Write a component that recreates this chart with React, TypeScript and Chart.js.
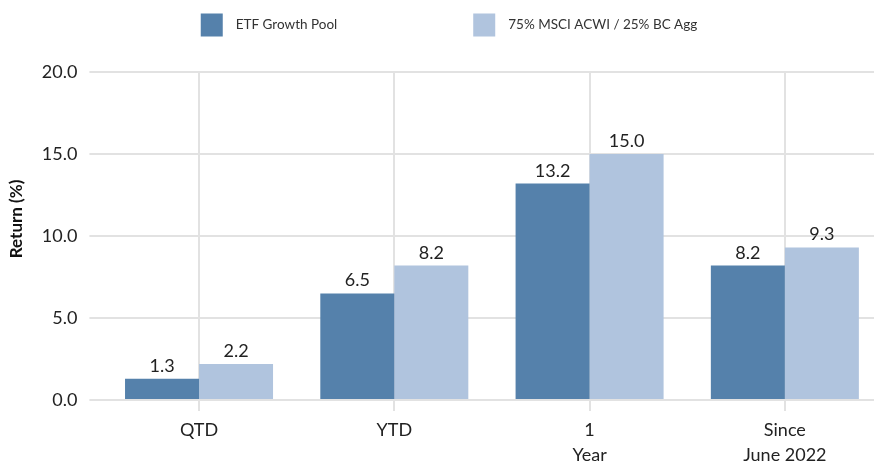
import React, { useEffect, useRef } from 'react';
import { Chart, registerables } from 'chart.js';

Chart.register(...registerables);

const categories: (string | string[])[] = ['QTD', 'YTD', ['1', 'Year'], ['Since', 'June 2022']];
const seriesNames = ['ETF Growth Pool', '75% MSCI ACWI / 25% BC Agg'];
const etfGrowthPool = [1.3, 6.5, 13.2, 8.2];
const benchmark = [2.2, 8.2, 15.0, 9.3];
const yMin = 0;
const yMax = 20;
const yStep = 5;
const yTitle = 'Return (%)';

const colors = ['#5581ab', '#b0c4de'];
const FONT = 'Lato, "Open Sans", sans-serif';
const TEXT = '#222222';
const GRID = '#e2e2e2';

const CANVAS_W = 884;
const CANVAS_H = 462;

const legendPlugin = {
  id: 'customLegend',
  afterDraw(chart: any) {
    const ctx = chart.ctx;
    ctx.save();
    ctx.font = `13.5px ${FONT}`;
    const box = 22, boxH = 23, gap = 13, itemGap = 136;
    const items = chart.data.datasets.map((ds: any) => ({
      label: ds.label,
      color: ds.backgroundColor,
      w: ctx.measureText(ds.label).width,
    }));
    const total = items.reduce((s: number, it: any) => s + box + gap + it.w, 0) + itemGap * (items.length - 1);
    let x = 449 - total / 2;
    const cy = 25;
    items.forEach((it: any) => {
      ctx.fillStyle = it.color;
      ctx.fillRect(x, cy - boxH / 2, box, boxH);
      ctx.fillStyle = '#333333';
      ctx.textBaseline = 'middle';
      ctx.textAlign = 'left';
      ctx.fillText(it.label, x + box + gap, cy);
      x += box + gap + it.w + itemGap;
    });
    // y-axis title
    ctx.translate(17, 219);
    ctx.rotate(-Math.PI / 2);
    ctx.font = `bold 17px ${FONT}`;
    ctx.fillStyle = '#111111';
    ctx.textAlign = 'center';
    ctx.textBaseline = 'middle';
    ctx.fillText(yTitle, 0, 0);
    ctx.restore();
  },
};

const valueLabelPlugin = {
  id: 'valueLabels',
  afterDatasetsDraw(chart: any) {
    const ctx = chart.ctx;
    ctx.save();
    ctx.font = `18px ${FONT}`;
    ctx.fillStyle = TEXT;
    ctx.textAlign = 'center';
    ctx.textBaseline = 'alphabetic';
    chart.data.datasets.forEach((ds: any, di: number) => {
      const meta = chart.getDatasetMeta(di);
      meta.data.forEach((el: any, i: number) => {
        const v = ds.data[i];
        ctx.fillText(Number(v).toFixed(1), el.x, el.y - 7);
      });
    });
    ctx.restore();
  },
};

export default function App() {
  const ref = useRef<HTMLCanvasElement | null>(null);

  useEffect(() => {
    if (!ref.current) return;
    const chart = new Chart(ref.current, {
      type: 'bar',
      data: {
        labels: categories,
        datasets: [
          { label: seriesNames[0], data: etfGrowthPool, backgroundColor: colors[0], borderWidth: 0, categoryPercentage: 0.758, barPercentage: 1 },
          { label: seriesNames[1], data: benchmark, backgroundColor: colors[1], borderWidth: 0, categoryPercentage: 0.758, barPercentage: 1 },
        ],
      },
      options: {
        animation: false,
        responsive: false,
        maintainAspectRatio: false,
        layout: { padding: { top: 72, right: 1.5, left: 0, bottom: 0 } },
        plugins: {
          legend: { display: false },
          tooltip: { enabled: false },
        },
        scales: {
          x: {
            offset: true,
            grid: { offset: false, color: GRID, lineWidth: 2, tickLength: 11, drawTicks: true },
            border: { display: false },
            ticks: { color: TEXT, font: { family: FONT, size: 18, lineHeight: 1.42 }, padding: 6, maxRotation: 0, autoSkip: false },
            afterFit: (scale: any) => { scale.height = 62; },
          },
          y: {
            min: yMin,
            max: yMax,
            grid: { color: GRID, lineWidth: 2, tickLength: 12 },
            border: { display: false },
            ticks: {
              stepSize: yStep,
              color: TEXT,
              font: { family: FONT, size: 18 },
              padding: 12,
              callback: (v: any) => Number(v).toFixed(1),
            },
            afterFit: (scale: any) => { scale.width = 101.4; },
          },
        },
      },
      plugins: [legendPlugin, valueLabelPlugin],
    });
    return () => chart.destroy();
  }, []);

  return (
    <div style={{ position: 'fixed', left: 0, top: 0, width: 874, height: 462, overflow: 'hidden', background: '#ffffff' }}>
      <canvas ref={ref} width={CANVAS_W} height={CANVAS_H} style={{ width: CANVAS_W, height: CANVAS_H, display: 'block' }} />
    </div>
  );
}
